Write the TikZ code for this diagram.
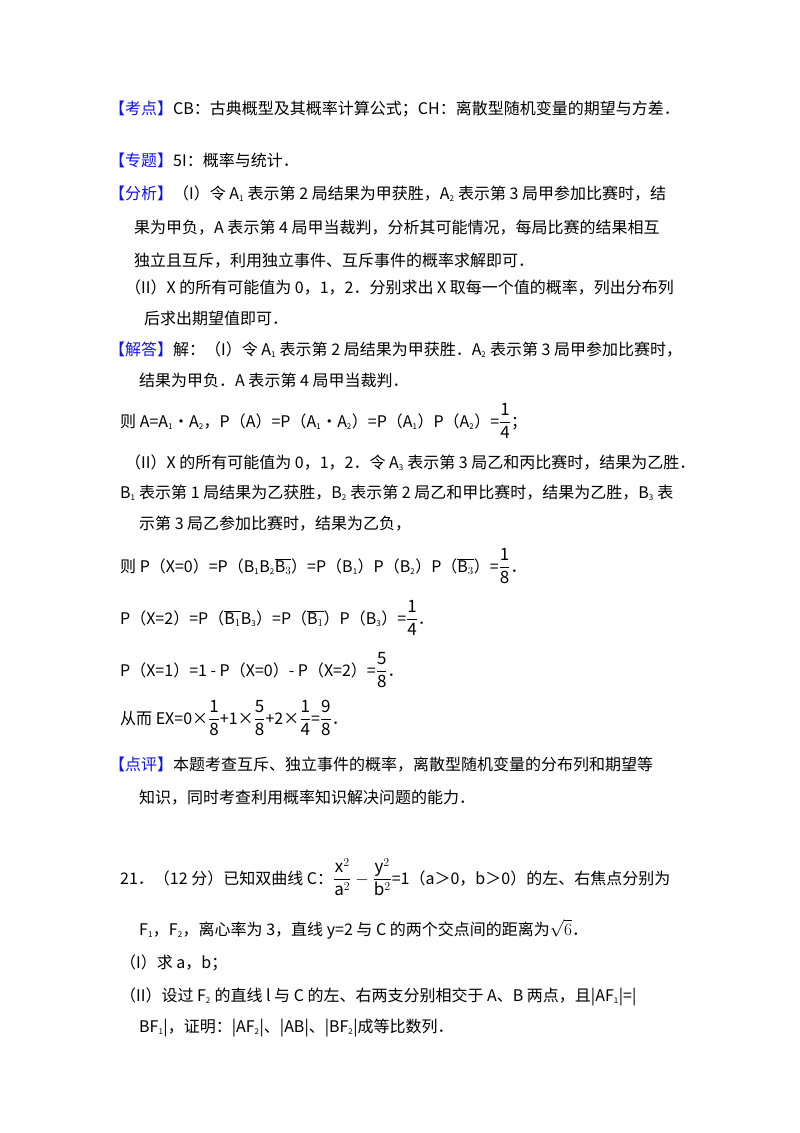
\documentclass[tikz,border=0pt]{standalone}
\usepackage{fontspec}
\setmainfont{Noto Sans CJK SC}
\newcommand{\sbx}[1]{\textsubscript{\footnotesize #1}}
\newcommand{\fr}[2]{{\fontsize{17}{20}\selectfont$\displaystyle\frac{\mathrm{#1}}{\mathrm{#2}}$}}
\newcommand{\ob}[1]{$\overline{\mathrm{B}_{#1}}$}
\definecolor{tag}{RGB}{20,20,230}
\begin{document}
\begin{tikzpicture}[x=1pt,y=-1pt,every node/.style={anchor=base west,inner sep=0pt,font=\fontsize{16}{18}\selectfont}]
\useasboundingbox[fill=white] (0,0) rectangle (800,1133);
\newcommand{\T}[1]{\textcolor{tag}{#1}}
\node (l1) at (109,114) {\T{【考点】}CB：古典概型及其概率计算公式；CH：离散型随机变量的期望与方差．};
\node (l2) at (109,166) {\T{【专题】}5I：概率与统计．};
\node (l3) at (109,199) {\T{【分析】}（I）令 A\sbx{1} 表示第 2 局结果为甲获胜，A\sbx{2} 表示第 3 局甲参加比赛时，结};
\node (l4) at (134,233) {果为甲负，A 表示第 4 局甲当裁判，分析其可能情况，每局比赛的结果相互};
\node (l5) at (134,266) {独立且互斥，利用独立事件、互斥事件的概率求解即可．};
\node (l6) at (125,293) {（II）X 的所有可能值为 0，1，2．分别求出 X 取每一个值的概率，列出分布列};
\node (l7) at (144,324) {后求出期望值即可．};
\node (l8) at (109,355) {\T{【解答】}解：（I）令 A\sbx{1} 表示第 2 局结果为甲获胜．A\sbx{2} 表示第 3 局甲参加比赛时，};
\node (l9) at (139,386) {结果为甲负．A 表示第 4 局甲当裁判．};
\node (l10) at (120,427) {则 A=A\sbx{1}•A\sbx{2}，P（A）=P（A\sbx{1}•A\sbx{2}）=P（A\sbx{1}）P（A\sbx{2}）=\fr{1}{4}；};
\node (l11) at (125,468) {（II）X 的所有可能值为 0，1，2．令 A\sbx{3} 表示第 3 局乙和丙比赛时，结果为乙胜．};
\node (l12) at (120,498) {B\sbx{1} 表示第 1 局结果为乙获胜，B\sbx{2} 表示第 2 局乙和甲比赛时，结果为乙胜，B\sbx{3} 表};
\node (l13) at (139,529) {示第 3 局乙参加比赛时，结果为乙负，};
\node (l14) at (120,572) {则 P（X=0）=P（B\sbx{1}B\sbx{2}\ob{3}）=P（B\sbx{1}）P（B\sbx{2}）P（\ob{3}）=\fr{1}{8}．};
\node (l15) at (120,624) {P（X=2）=P（\ob{1}B\sbx{3}）=P（\ob{1}）P（B\sbx{3}）=\fr{1}{4}．};
\node (l16) at (120,676) {P（X=1）=1 - P（X=0）- P（X=2）=\fr{5}{8}．};
\node (l17) at (120,724) {从而 EX=0×\fr{1}{8}+1×\fr{5}{8}+2×\fr{1}{4}=\fr{9}{8}．};
\node (l18) at (109,770) {\T{【点评】}本题考查互斥、独立事件的概率，离散型随机变量的分布列和期望等};
\node (l19) at (139,803) {知识，同时考查利用概率知识解决问题的能力．};
\node (l20) at (120,884) {21．（12 分）已知双曲线 C：{\fontsize{17}{20}\selectfont$\displaystyle\frac{\mathrm{x}^2}{\mathrm{a}^2}-\frac{\mathrm{y}^2}{\mathrm{b}^2}$}=1（a＞0，b＞0）的左、右焦点分别为};
\node (l21) at (139,935) {F\sbx{1}，F\sbx{2}，离心率为 3，直线 y=2 与 C 的两个交点间的距离为$\sqrt{6}$．};
\node (l22) at (120,968) {（I）求 a，b；};
\node (l23) at (120,1001) {（II）设过 F\sbx{2} 的直线 l 与 C 的左、右两支分别相交于 A、B 两点，且|AF\sbx{1}|=|};
\node (l24) at (139,1032) {BF\sbx{1}|，证明：|AF\sbx{2}|、|AB|、|BF\sbx{2}|成等比数列．};
\end{tikzpicture}
\end{document}
